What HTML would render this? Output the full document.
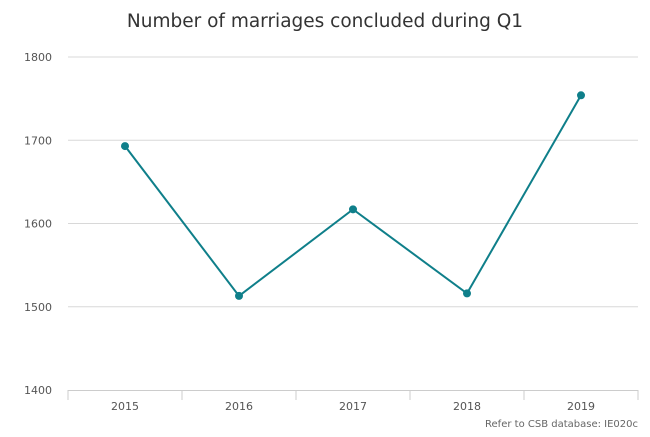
<!DOCTYPE html>
<html><head><meta charset="utf-8"><style>
body{margin:0;background:#fff;font-family:"DejaVu Sans","Liberation Sans",sans-serif;}
</style></head><body>
<svg id="c" width="650" height="433" xmlns="http://www.w3.org/2000/svg">
<text x="325" y="27" text-anchor="middle" font-size="18.5" fill="#333">Number of marriages concluded during Q1</text>
<g id="grid"></g>
<g id="yax"></g>
<g id="xax"></g>
<g id="series"></g>
<text x="638" y="427" text-anchor="end" font-size="10" fill="#666">Refer to CSB database: IE020c</text>
</svg>
<script>
const categories=["2015","2016","2017","2018","2019"];
const values=[1693,1513,1617,1516,1754];
const yTicks=[1400,1500,1600,1700,1800];
const ns="http://www.w3.org/2000/svg";
const L=68,R=638,T=57,B=390,yMin=1400,yMax=1800;
const bw=(R-L)/categories.length;
const x=i=>L+bw*(i+0.5);
const y=v=>B-(v-yMin)/(yMax-yMin)*(B-T);
function mk(tag,attrs,parent){const e=document.createElementNS(ns,tag);for(const k in attrs)e.setAttribute(k,attrs[k]);parent.appendChild(e);return e;}
const grid=document.getElementById('grid'),yax=document.getElementById('yax'),xax=document.getElementById('xax'),ser=document.getElementById('series');
yTicks.forEach(t=>{
  if(t!==yMin){const l=mk('line',{x1:L,x2:R,y1:y(t),y2:y(t),stroke:'#d8d8d8','stroke-width':1},grid);
  
  }
  const tx=mk('text',{x:52,y:y(t)+4,'text-anchor':'end','font-size':11,fill:'#555'},yax);
  tx.textContent=t;
  
  
});
const ax=mk('line',{x1:L,x2:R,y1:B+0.5,y2:B+0.5,stroke:'#ccc','stroke-width':1},xax);


for(let i=0;i<=categories.length;i++){
  const tk=mk('line',{x1:L+bw*i,x2:L+bw*i,y1:B,y2:B+10,stroke:'#ccc'},xax);
  
  
}
categories.forEach((c,i)=>{
  const tx=mk('text',{x:x(i),y:410,'text-anchor':'middle','font-size':11,fill:'#555'},xax);
  tx.textContent=c;
  
  
});
const p=mk('polyline',{points:values.map((v,i)=>x(i)+','+y(v)).join(' '),fill:'none',stroke:'#0f7f8a','stroke-width':2},ser);


values.forEach((v,i)=>{
  const c=mk('circle',{cx:x(i),cy:y(v),r:4,fill:'#0f7f8a'},ser);
  
  
});
</script>
</body></html>
